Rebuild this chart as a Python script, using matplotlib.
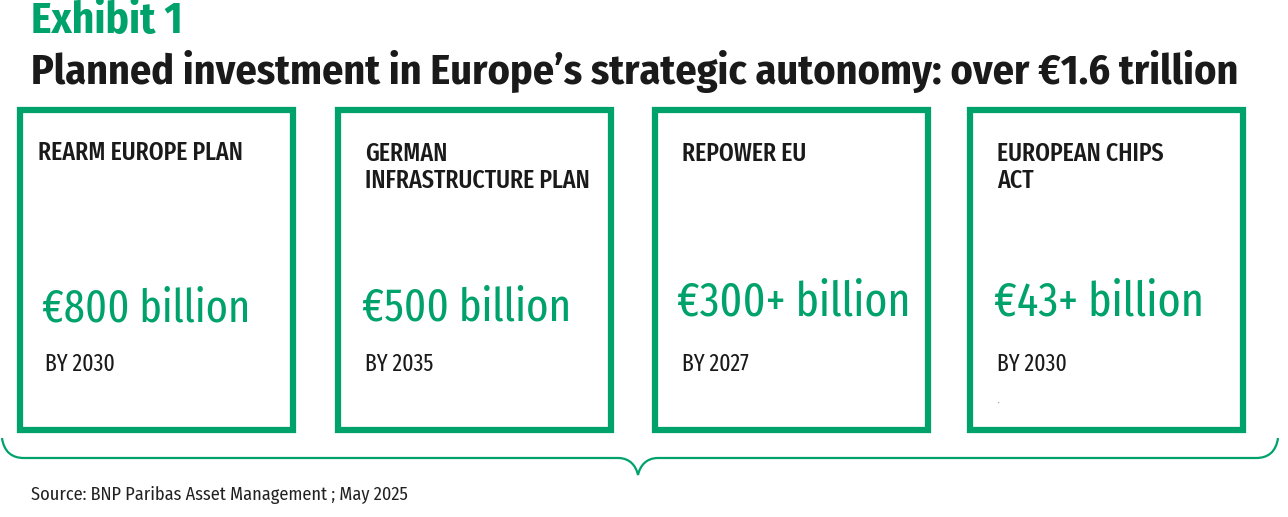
import matplotlib
matplotlib.use('Agg')
import matplotlib.pyplot as plt
from matplotlib.patches import Rectangle, PathPatch
from matplotlib.path import Path
import logging
logging.getLogger('matplotlib.font_manager').setLevel(logging.ERROR)

# chart content
exhibit = 'Exhibit 1'
title = 'Planned investment in Europe\u2019s strategic autonomy: over \u20ac1.6 trillion'
plans = ['REARM EUROPE PLAN', 'GERMAN\nINFRASTRUCTURE PLAN', 'REPOWER EU', 'EUROPEAN CHIPS\nACT']
amounts = ['\u20ac800 billion', '\u20ac500 billion', '\u20ac300+ billion', '\u20ac43+ billion']
horizons = ['BY 2030', 'BY 2035', 'BY 2027', 'BY 2030']
source = 'Source: BNP Paribas Asset Management ; May 2025'

GREEN = '#00a26b'
W, H = 1288, 517
HEAD = ['Fira Sans Condensed', 'Fira Sans', 'DejaVu Sans']
NARROW = ['Liberation Sans Narrow', 'Arial Narrow', 'Fira Sans Extra Condensed', 'Liberation Sans', 'DejaVu Sans']

fig = plt.figure(figsize=(W / 100, H / 100), dpi=100)
ax = fig.add_axes([0, 0, 1, 1])
ax.set_xlim(0, W)
ax.set_ylim(H, 0)
ax.axis('off')
fig.canvas.draw()
renderer = fig.canvas.get_renderer()


def fit_text(x, y, s, width, size, **kw):
    """place text and rescale so it spans roughly `width` pixels"""
    t = ax.text(x, y, s, fontsize=size, **kw)
    w = t.get_window_extent(renderer).width
    t.set_fontsize(size * width / w)
    return t


fit_text(31, 22, exhibit, 152, 24, color=GREEN, fontweight='bold', family=HEAD, va='center')
fit_text(31, 71, title, 1207, 24, color='#1a1a1a', fontweight='bold', family=HEAD, va='center')

# label size taken from the first box, reused for the rest
lab = fit_text(38, 153, plans[0], 205, 14, family=NARROW, fontweight='medium',
               color='#1a1a1a', va='center')
lab_size = lab.get_fontsize()
by = fit_text(45, 364, horizons[0], 70, 14, family=NARROW, color='#1a1a1a', va='center')
by_size = by.get_fontsize()

box_left = [17, 335, 652, 967]
box_w = 279
label_x = [38, 365, 682, 997]
amt_x = [42, 362, 677, 994]
amt_w = [208, 209, 233, 210]
amt_y = [309, 308, 302, 302]
for i, (plan, amt, hz) in enumerate(zip(plans, amounts, horizons)):
    x0 = box_left[i]
    ax.add_patch(Rectangle((x0 + 3, 110), box_w - 6, 320, fill=False,
                           edgecolor=GREEN, linewidth=4.5))
    if i > 0:
        ax.text(label_x[i], 141, plan, fontsize=lab_size, family=NARROW, fontweight='medium',
                color='#1a1a1a', va='top', linespacing=1.12)
        ax.text(label_x[i], 364, hz, fontsize=by_size, family=NARROW, color='#1a1a1a', va='center')
    fit_text(amt_x[i], amt_y[i], amt, amt_w[i], 34, family=NARROW, color=GREEN, va='center')

ax.text(998, 401, ',', fontsize=4, color='#333333', va='center')

# brace under the boxes
verts = [(2, 438), (4, 452), (12, 458), (24, 458),
         (618, 458), (630, 458), (636, 466), (638, 475),
         (640, 466), (646, 458), (658, 458),
         (1256, 458), (1268, 458), (1276, 452), (1278, 438)]
codes = [Path.MOVETO, Path.CURVE4, Path.CURVE4, Path.CURVE4,
         Path.LINETO, Path.CURVE4, Path.CURVE4, Path.CURVE4,
         Path.CURVE4, Path.CURVE4, Path.CURVE4,
         Path.LINETO, Path.CURVE4, Path.CURVE4, Path.CURVE4]
ax.add_patch(PathPatch(Path(verts, codes), fill=False, edgecolor=GREEN, linewidth=1.6))

fit_text(31, 495, source, 377, 10, family=HEAD, color='#222222', va='center')

fig.savefig('out.png', dpi=100)
